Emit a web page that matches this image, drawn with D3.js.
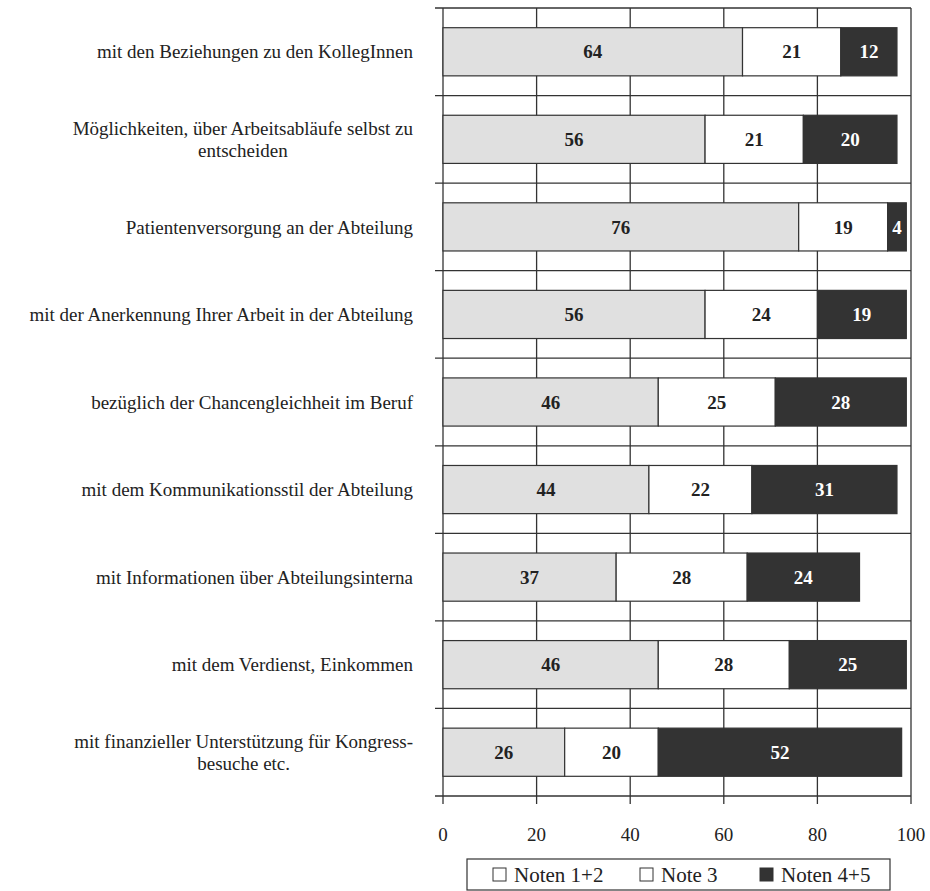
<!DOCTYPE html>
<html>
<head>
<meta charset="utf-8">
<script src="https://cdn.jsdelivr.net/npm/d3@7.9.0/dist/d3.min.js"></script>
<style>
  body { margin: 0; background: #fff; }
  svg { display: block; font-family: "Liberation Serif", "DejaVu Serif", serif; }
</style>
</head>
<body>
<svg id="chart" width="930" height="891"></svg>
<script>
const categories = [
  "mit den Beziehungen zu den KollegInnen",
  "Möglichkeiten, über Arbeitsabläufe selbst zu\nentscheiden",
  "Patientenversorgung an der Abteilung",
  "mit der Anerkennung Ihrer Arbeit in der Abteilung",
  "bezüglich der Chancengleichheit im Beruf",
  "mit dem Kommunikationsstil der Abteilung",
  "mit Informationen über Abteilungsinterna",
  "mit dem Verdienst, Einkommen",
  "mit finanzieller Unterstützung für Kongress-\nbesuche etc."
];
const noten12 = [64, 56, 76, 56, 46, 44, 37, 46, 26];
const note3   = [21, 21, 19, 24, 25, 22, 28, 28, 20];
const noten45 = [12, 20, 4, 19, 28, 31, 24, 25, 52];
const seriesNames = ["Noten 1+2", "Note 3", "Noten 4+5"];
const xTicks = [0, 20, 40, 60, 80, 100];

const svg = d3.select("#chart");
const colors = ["#e0e0e0", "#ffffff", "#333333"];
const textColors = ["#222", "#222", "#fff"];

const x = d3.scaleLinear().domain([0, 100]).range([443, 911]);
const y = d3.scaleBand().domain(d3.range(categories.length))
  .range([8, 796]).paddingInner(0.45).paddingOuter(0.225);
const step = y.step();

// vertical grid lines
svg.append("g").selectAll("line").data(xTicks).join("line")
  .attr("x1", d => x(d)).attr("x2", d => x(d))
  .attr("y1", 8).attr("y2", 804)
  .attr("stroke", "#333").attr("stroke-width", 1.3);

// horizontal separators + left ticks
const bounds = d3.range(categories.length + 1).map(i => 8 + i * step);
svg.append("g").selectAll("line").data(bounds).join("line")
  .attr("x1", 435).attr("x2", x(100))
  .attr("y1", d => d).attr("y2", d => d)
  .attr("stroke", "#333").attr("stroke-width", 1.3);

// stacked bars
const rows = categories.map((c, i) => [noten12[i], note3[i], noten45[i]]);
rows.forEach((vals, i) => {
  let acc = 0;
  vals.forEach((v, k) => {
    const x0 = acc;
    acc += v;
    svg.append("rect")
      .attr("x", x(x0)).attr("y", y(i))
      .attr("width", x(acc) - x(x0)).attr("height", y.bandwidth())
      .attr("fill", colors[k]).attr("stroke", "#333").attr("stroke-width", 1.2);
    svg.append("text")
      .attr("x", (x(x0) + x(acc)) / 2).attr("y", y(i) + y.bandwidth() / 2)
      .attr("dy", "0.35em").attr("text-anchor", "middle")
      .attr("font-size", 19).attr("font-weight", "bold")
      .attr("fill", textColors[k]).text(v);
  });
});

// category labels (block right-aligned, lines centred)
categories.forEach((c, i) => {
  const lines = c.split("\n");
  const g = svg.append("g");
  const lh = 22;
  const cy = y(i) + y.bandwidth() / 2;
  const ts = lines.map((ln, j) => g.append("text")
    .attr("y", cy + (j - (lines.length - 1) / 2) * lh)
    .attr("dy", "0.35em").attr("font-size", 19).attr("fill", "#222")
    .attr("text-anchor", "middle").text(ln));
  const w = d3.max(ts, t => t.node().getComputedTextLength());
  ts.forEach(t => t.attr("x", 413 - w / 2));
});

// x tick labels
svg.append("g").selectAll("text").data(xTicks).join("text")
  .attr("x", d => x(d)).attr("y", 841)
  .attr("text-anchor", "middle").attr("font-size", 19).attr("fill", "#222")
  .text(d => d);

// legend
const lg = svg.append("g");
lg.append("rect").attr("x", 467).attr("y", 859).attr("width", 423).attr("height", 31)
  .attr("fill", "#fff").attr("stroke", "#333").attr("stroke-width", 1.2);
const legendX = [493, 640, 760];
seriesNames.forEach((s, k) => {
  lg.append("rect").attr("x", legendX[k]).attr("y", 868).attr("width", 13).attr("height", 13)
    .attr("fill", k === 2 ? "#333" : "#fff").attr("stroke", "#333").attr("stroke-width", 1);
  lg.append("text").attr("x", legendX[k] + 21).attr("y", 882)
    .attr("font-size", 21).attr("fill", "#222").text(s);
});
</script>
</body>
</html>
